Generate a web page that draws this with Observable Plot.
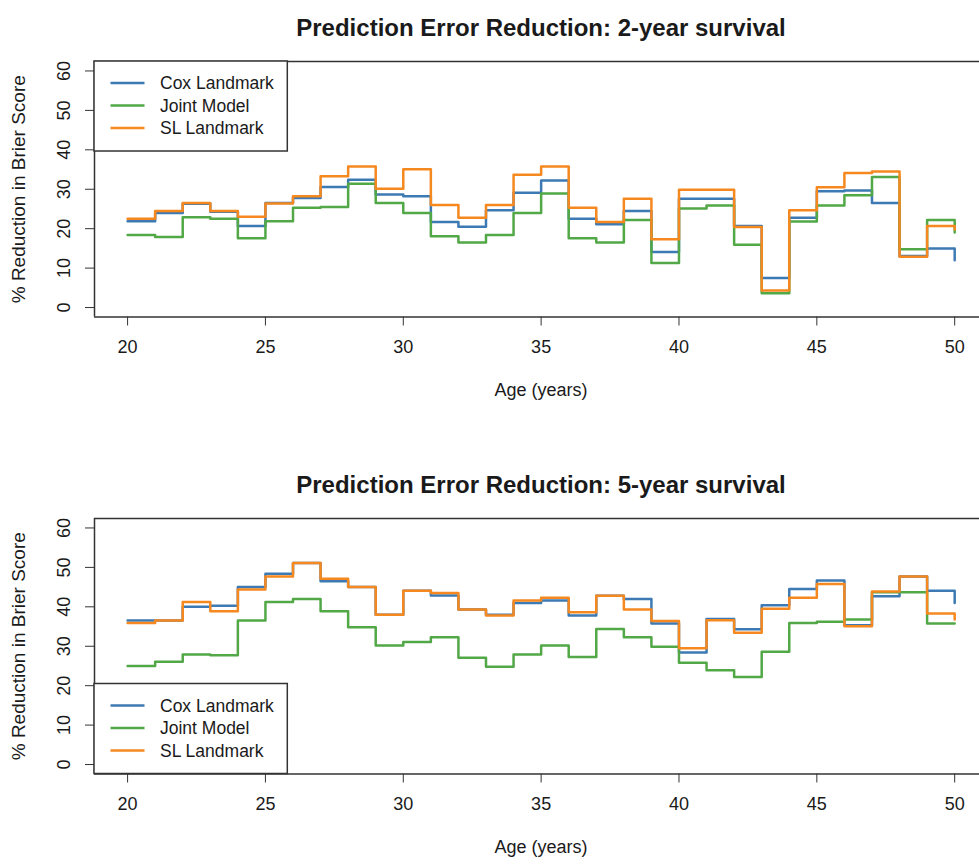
<!DOCTYPE html>
<html><head><meta charset="utf-8">
<script src="https://cdn.jsdelivr.net/npm/d3@7"></script>
<script src="https://cdn.jsdelivr.net/npm/@observablehq/plot@0.6"></script>
<style>body{margin:0;background:#fff;} #c{width:979px;} #c svg{display:block;}</style>
</head><body><div id="c"></div>
<script>
const ages = [20,21,22,23,24,25,26,27,28,29,30,31,32,33,34,35,36,37,38,39,40,41,42,43,44,45,46,47,48,49,50];
const cox2   = [21.9,24.0,26.3,24.3,20.7,26.5,27.8,30.6,32.4,28.7,28.2,21.7,20.5,24.7,29.1,32.2,22.5,21.1,24.5,14.1,27.6,27.6,20.7,7.5,22.8,29.5,29.7,26.5,13.1,15.0,12.0];
const joint2 = [18.4,17.9,22.9,22.5,17.6,21.9,25.3,25.5,31.4,26.5,24.0,18.1,16.5,18.4,24.0,28.9,17.6,16.5,22.2,11.3,25.1,25.9,15.9,3.6,21.8,25.9,28.5,33.1,14.8,22.2,19.0];
const sl2    = [22.5,24.5,26.5,24.5,23.0,26.4,28.2,33.3,35.8,30.1,35.1,26.0,22.8,26.0,33.7,35.8,25.3,21.7,27.6,17.3,29.9,29.9,20.4,4.3,24.7,30.5,34.1,34.5,12.9,20.7,19.8];
const cox5   = [36.5,36.5,40.0,40.3,45.0,48.4,51.1,46.5,45.0,38.0,44.1,42.9,39.3,38.0,41.0,41.6,37.8,42.8,42.0,35.8,28.4,36.9,34.3,40.4,44.5,46.7,35.3,42.7,47.7,44.1,41.0];
const joint5 = [25.0,26.1,27.9,27.7,36.5,41.2,42.0,38.9,34.8,30.2,31.1,32.3,27.1,24.8,27.9,30.2,27.3,34.4,32.3,29.9,25.8,23.9,22.2,28.6,35.9,36.2,36.8,43.7,43.7,35.8,35.8];
const sl5    = [35.9,36.5,41.2,38.9,44.4,47.7,51.1,47.1,45.0,38.0,44.1,43.5,39.3,37.8,41.6,42.3,38.6,42.8,39.3,36.4,29.5,36.6,33.4,39.5,42.3,45.8,35.1,43.9,47.7,38.3,36.8];
const seriesNames = ["Cox Landmark","Joint Model","SL Landmark"];
const seriesColors = ["#3d7ab3","#52a847","#f5881f"];
const xTicks = [20,25,30,35,40,45,50];
const yTicks = [0,10,20,30,40,50,60];
const titles = ["Prediction Error Reduction: 2-year survival","Prediction Error Reduction: 5-year survival"];
const xLabel = "Age (years)";
const yLabel = "% Reduction in Brier Score";

const FONT = "'Liberation Sans', Arial, Helvetica, sans-serif";
const TXT = "#1a1a1a";

function rows(vals){ return ages.map((a,i)=>({age:a, v:vals[i]})); }

function panel(title, series, height, legendAtTop){
  const xDom = [18.8, 50.9], yDom = [-2.4, 62.4];
  const mb = height - 316.5;
  const marks = [];
  series.forEach((s,i)=>marks.push(Plot.line(rows(s), {x:"age", y:"v", curve:"step-after", stroke:seriesColors[i], strokeWidth:2.5})));
  marks.push(
    Plot.ruleX([xDom[0]], {stroke:"#333", strokeWidth:1.5}),
    Plot.ruleY(yDom, {stroke:"#333", strokeWidth:1.5}),
    Plot.text([title], {text:d=>d, frameAnchor:"top", textAnchor:"middle", dx:4, dy:-43, fontSize:24, fontWeight:"bold", fill:TXT}),
    Plot.text(xTicks, {x:d=>d, text:d=>String(d), frameAnchor:"bottom", textAnchor:"middle", dy:35.5, fontSize:18, fill:TXT}),
    Plot.text([xLabel], {text:d=>d, frameAnchor:"bottom", textAnchor:"middle", dx:4, dy:78.5, fontSize:18, fill:TXT}),
    Plot.text(yTicks, {y:d=>d, text:d=>String(d), frameAnchor:"left", textAnchor:"middle", dx:-30, rotate:-90, fontSize:18, fill:TXT}),
    Plot.text([yLabel], {text:d=>d, frameAnchor:"left", textAnchor:"middle", dx:-76, rotate:-90, fontSize:19, fill:TXT})
  );
  const svg = Plot.plot({
    width:979, height,
    marginLeft:94, marginRight:0, marginTop:61, marginBottom:mb,
    style:{fontFamily:FONT, background:"white", color:"#333", overflow:"visible"},
    x:{domain:xDom, ticks:xTicks, tickSize:9, tickFormat:()=>"", label:null},
    y:{domain:yDom, ticks:yTicks, tickSize:9, tickFormat:()=>"", label:null},
    marks
  });
  // legend
  const s = d3.select(svg);
  const top = legendAtTop ? 61 : 316.5 - 90;
  const g = s.append("g");
  g.append("rect").attr("x",94).attr("y",top).attr("width",193.3).attr("height",90)
    .attr("fill","white").attr("stroke","#333").attr("stroke-width",1.5);
  seriesNames.forEach((n,i)=>{
    const yy = top + 22 + i*22.5;
    g.append("line").attr("x1",110.5).attr("x2",144.5).attr("y1",yy).attr("y2",yy)
      .attr("stroke",seriesColors[i]).attr("stroke-width",2.5);
    g.append("text").attr("x",160).attr("y",yy).attr("dy","0.35em").attr("text-anchor","start")
      .attr("font-size",17.5).attr("fill",TXT).attr("font-family",FONT).text(n);
  });
  return svg;
}

const c = document.getElementById("c");
c.appendChild(panel(titles[0], [cox2, joint2, sl2], 457, true));
c.appendChild(panel(titles[1], [cox5, joint5, sl5], 408, false));
</script>
</body></html>
